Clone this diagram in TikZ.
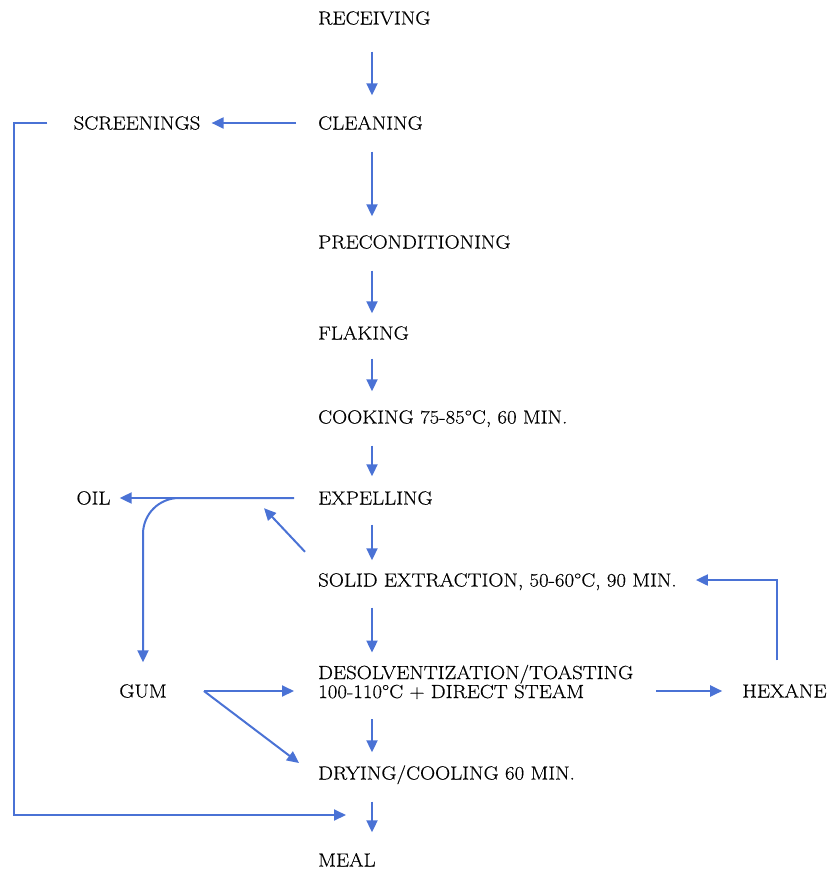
\documentclass[tikz,border=0pt]{standalone}
\usepackage{fontspec}
\usepackage{tikz}
\usetikzlibrary{arrows.meta, calc}
\newfontfamily\flowfont{Latin Modern Roman}[FakeStretch=1.1, FakeBold=0.4]
\definecolor{flowblue}{HTML}{4A72D5}

\begin{document}
\begin{tikzpicture}[x=1pt, y=-1pt,
    lbl/.style={font=\flowfont\fontsize{19}{19}\selectfont, inner sep=0pt, anchor=west},
    stage/.style={lbl, text height=13pt, text depth=0pt},
    side/.style={stage, anchor=center},
    flow/.style={draw=flowblue, line width=2pt,
      -{Triangle[length=12pt, width=11pt]}}]
  \useasboundingbox (0,0) rectangle (829,871);
  \coordinate (axis) at (372,0);
  \coordinate (rail) at (14,0);
  \coordinate (mealin) at (346,815);

  \node[stage] (recv) at (318,18) {RECEIVING};
  \node[stage] (clean) at (318,123) {CLEANING};
  \node[stage] (precond) at (318,242) {PRECONDITIONING};
  \node[stage] (flake) at (318,333) {FLAKING};
  \node[stage] (cook) at (318,417) {COOKING 75-85°C, 60 MIN.};
  \node[stage] (expel) at (318,498) {EXPELLING};
  \node[stage] (extract) at (318,580) {SOLID EXTRACTION, 50-60°C, 90 MIN.};
  \node[lbl, align=left] (desolv) at (318,682)
    {DESOLVENTIZATION/TOASTING\\100-110°C + DIRECT STEAM};
  \node[stage] (dry) at (318,773) {DRYING/COOLING 60 MIN.};
  \node[stage] (meal) at (318,860) {MEAL};

  \node[side] (screen) at (137,123) {SCREENINGS};
  \node[side] (oil) at (93.5,498) {OIL};
  \node[side] (gum) at (143,691) {GUM};
  \node[side] (hexane) at (784.5,691) {HEXANE};

  \foreach \a/\b/\s/\e in {recv/clean/27/21, clean/precond/22/19,
      precond/flake/22/13, flake/cook/19/19, cook/expel/22/15,
      expel/extract/20/13, extract/desolv/21/12, desolv/dry/20/14,
      dry/meal/22/21}
    \draw[flow, shorten <=\s pt, shorten >=\e pt]
      (\a.south -| axis) -- (\b.north -| axis);

  \draw[flow, shorten <=22pt, shorten >=11pt] (clean.west) -- (screen.east);
  \draw[flow] ([xshift=-26pt]screen.west) -- (screen.west -| rail)
    -- (mealin -| rail) -- (mealin);

  \draw[flow, shorten <=24pt, shorten >=9pt] (expel.west) -- (oil.east);
  \draw[flow, rounded corners=36pt, shorten >=22pt]
    ([xshift=-24pt]expel.west) -- (expel.west -| gum.north) -- (gum.north);
  \draw[flow] ([shift={(-13pt,21.5pt)}]extract.north west)
    -- ([shift={(-54pt,-3.5pt)}]expel.south west);

  \draw[flow, shorten <=37pt, shorten >=24pt] (gum.east) -- (gum.east -| desolv.west);
  \draw[flow] ([xshift=37pt]gum.east) -- ([shift={(-19pt,10pt)}]dry.west);

  \draw[flow, shorten <=23pt, shorten >=20pt] (desolv.east |- hexane.west) -- (hexane.west);
  \draw[flow, shorten <=24pt, shorten >=19pt]
    ([xshift=-7.5pt]hexane.north) |- (extract.east);
\end{tikzpicture}
\end{document}
